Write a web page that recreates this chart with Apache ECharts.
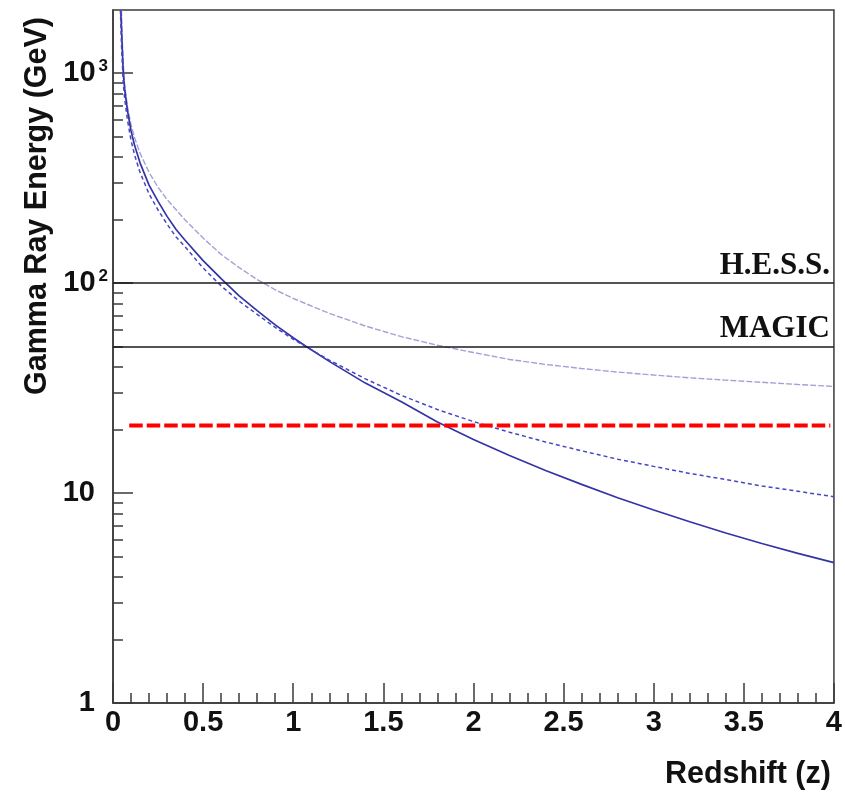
<!DOCTYPE html>
<html>
<head>
<meta charset="utf-8">
<script src="https://cdn.jsdelivr.net/npm/echarts@6/dist/echarts.min.js"></script>
<style>
  html, body { margin: 0; padding: 0; background: #fff; }
  #chart { width: 845px; height: 798px; }
</style>
</head>
<body>
<div id="chart"></div>
<script>
// Gamma-ray horizon: maximum observable energy versus redshift for three models
const solidZ = [0.043, 0.05, 0.057, 0.065, 0.08, 0.1, 0.12, 0.15, 0.2, 0.25, 0.3, 0.35, 0.4, 0.5, 0.6, 0.7, 0.8, 0.9, 1.0, 1.07, 1.2, 1.4, 1.6, 1.8, 2.0, 2.2, 2.4, 2.6, 2.8, 3.0, 3.2, 3.4, 3.6, 3.8, 4.0];
const solidE = [2000, 1400, 1000, 836, 665, 532, 452, 374, 293, 245, 208, 180, 160, 128, 105, 87, 74, 63.3, 54.9, 50, 42.4, 33.4, 27.2, 21.8, 18.0, 15.1, 12.8, 11.0, 9.5, 8.3, 7.3, 6.45, 5.75, 5.16, 4.66];

const dashZ = [0.041, 0.048, 0.057, 0.065, 0.08, 0.1, 0.12, 0.15, 0.2, 0.25, 0.3, 0.35, 0.4, 0.5, 0.6, 0.7, 0.8, 0.9, 1.0, 1.07, 1.2, 1.4, 1.6, 1.8, 2.0, 2.2, 2.4, 2.6, 2.8, 3.0, 3.2, 3.4, 3.6, 3.8, 4.0];
const dashE = [2000, 1300, 900, 752, 600, 480, 407, 337, 266, 223, 191, 166, 149, 118, 97, 82, 71, 61.5, 54, 49.8, 43, 35, 29.2, 25.0, 21.9, 19.5, 17.5, 15.9, 14.5, 13.4, 12.4, 11.6, 10.8, 10.2, 9.6];

const dotZ = [0.047, 0.052, 0.058, 0.065, 0.08, 0.1, 0.12, 0.15, 0.2, 0.25, 0.3, 0.4, 0.5, 0.6, 0.7, 0.8, 0.9, 1.0, 1.2, 1.4, 1.6, 1.8, 2.0, 2.2, 2.4, 2.6, 2.8, 3.0, 3.2, 3.4, 3.6, 3.8, 4.0];
const dotE = [2000, 1400, 1080, 874, 695, 569, 492, 416, 337, 286, 250, 200, 164, 137, 118.6, 104, 93, 84.5, 71.8, 62.5, 55.6, 50.6, 46.7, 43.3, 41.0, 39.2, 37.7, 36.5, 35.4, 34.5, 33.7, 32.9, 32.2];

// Instrument energy thresholds (GeV)
const thresholdNames = ['H.E.S.S.', 'MAGIC'];
const thresholdValues = [100, 50];

// Reference energy level
const refZ = [0.09, 3.98];
const refE = [21, 21];

// Axis ticks
const xMajorStep = 0.5;
const yMajorValues = [1, 10, 100, 1000];
const yMajorBase = ['1', '10', '10', '10'];
const yMajorExp = ['', '', '2', '3'];
const yMinorValues = [2, 3, 4, 5, 6, 7, 8, 9, 20, 30, 40, 50, 60, 70, 80, 90, 200, 300, 400, 500, 600, 700, 800, 900];

const SANS = '"Liberation Sans", Arial, Helvetica, sans-serif';
const SERIF = '"Liberation Serif", "Times New Roman", Times, serif';
const AXIS_COLOR = '#3a3a3a';

function pairs(xs, ys) { return xs.map((x, i) => [x, ys[i]]); }

const chart = echarts.init(document.getElementById('chart'), null, { renderer: 'canvas' });

const tickLine = { color: AXIS_COLOR, width: 1.5 };

const option = {
  animation: false,
  backgroundColor: '#ffffff',
  grid: {
    left: 113, top: 10, width: 723, height: 693,
    show: true, borderColor: AXIS_COLOR, borderWidth: 1.5, containLabel: false
  },
  xAxis: {
    type: 'value', min: 0, max: 4, interval: xMajorStep,
    name: 'Redshift (z)', nameLocation: 'end', nameGap: 0, nameMoveOverlap: false,
    nameTextStyle: {
      fontFamily: SANS, fontSize: 30.5, fontWeight: 'bold', color: '#111',
      align: 'right', verticalAlign: 'top', padding: [56, 3, 0, 0]
    },
    axisLine: { show: true, onZero: false, lineStyle: { color: AXIS_COLOR, width: 1.5 } },
    axisTick: { show: true, inside: true, length: 20, lineStyle: tickLine },
    minorTick: { show: true, splitNumber: 5, length: 10, lineStyle: tickLine },
    axisLabel: {
      fontFamily: SANS, fontSize: 29, fontWeight: 'bold', color: '#111', margin: 5,
      formatter: v => String(v), hideOverlap: false
    },
    splitLine: { show: false }
  },
  yAxis: [
    {
      type: 'log', logBase: 10, min: 1, max: 2000,
      name: 'Gamma Ray Energy (GeV)', nameLocation: 'end', nameGap: -7, nameRotate: 90, nameMoveOverlap: false,
      nameTextStyle: {
        fontFamily: SANS, fontSize: 30.5, fontWeight: 'bold', color: '#111',
        align: 'right', verticalAlign: 'bottom', padding: [0, 0, 60, 0]
      },
      axisLine: { show: true, lineStyle: { color: AXIS_COLOR, width: 1.5 } },
      axisTick: { show: true, inside: true, length: 20, lineStyle: tickLine, customValues: yMajorValues },
      axisLabel: {
        customValues: yMajorValues, margin: 5, hideOverlap: false,
        formatter: function (v) {
          const i = yMajorValues.indexOf(Math.round(v));
          if (i < 0) return '';
          return yMajorExp[i] ? '{b|' + yMajorBase[i] + '}{s|' + yMajorExp[i] + '}' : '{b|' + yMajorBase[i] + '}{p|\u2002}';
        },
        rich: {
          b: { fontFamily: SANS, fontSize: 29, fontWeight: 'bold', color: '#111', lineHeight: 30 },
          s: { fontFamily: SANS, fontSize: 17, fontWeight: 'bold', color: '#111', lineHeight: 17,
               verticalAlign: 'top', padding: [0, 0, 30, 3] },
          p: { fontSize: 12, width: 13, lineHeight: 30 }
        }
      },
      splitLine: { show: false }
    },
    {
      type: 'log', logBase: 10, min: 1, max: 2000, position: 'left', offset: 0,
      axisLine: { show: false },
      axisTick: { show: true, inside: true, length: 10, lineStyle: tickLine, customValues: yMinorValues },
      axisLabel: { show: false },
      splitLine: { show: false }
    }
  ],
  series: [
    {
      name: 'model A', type: 'line', data: pairs(solidZ, solidE),
      showSymbol: false, smooth: false,
      lineStyle: { color: '#3434a6', width: 1.7 }, z: 3
    },
    {
      name: 'model B', type: 'line', data: pairs(dashZ, dashE),
      showSymbol: false, smooth: false,
      lineStyle: { color: '#4646c4', width: 1.5, type: [4, 3] }, z: 3
    },
    {
      name: 'model C', type: 'line', data: pairs(dotZ, dotE),
      showSymbol: false, smooth: false,
      lineStyle: { color: '#a2a2d6', width: 1.4, type: [6, 2] }, z: 2
    },
    {
      name: 'thresholds', type: 'line', data: [],
      markLine: {
        silent: true, symbol: ['none', 'none'], animation: false,
        lineStyle: { color: '#1a1a1a', width: 1.6, type: 'solid' },
        label: {
          show: true, position: 'insideEndTop', formatter: '{b}', distance: [4, 2],
          fontFamily: SERIF, fontSize: 31, fontWeight: 'bold', color: '#111'
        },
        data: thresholdValues.map((v, i) => ({ yAxis: v, name: thresholdNames[i] }))
      }
    },
    {
      name: 'reference', type: 'line', data: pairs(refZ, refE),
      showSymbol: false,
      lineStyle: { color: '#ff0000', width: 4, type: [13.5, 4], cap: 'butt' }, z: 5
    }
  ]
};

chart.setOption(option);
</script>
</body>
</html>
